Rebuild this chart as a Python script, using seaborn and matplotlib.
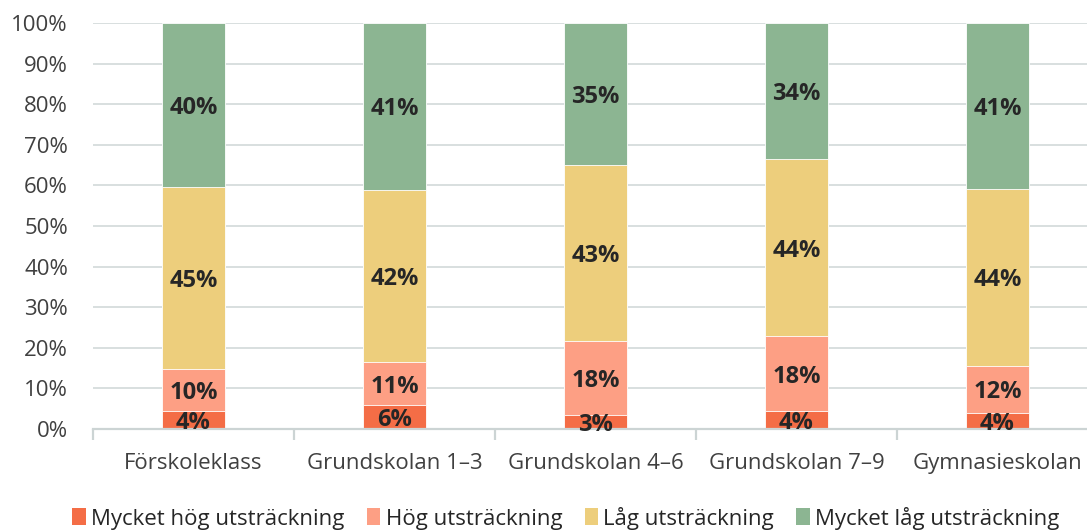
import numpy as np
import pandas as pd
import matplotlib.pyplot as plt
import seaborn as sns
from matplotlib.patches import Patch

# data (shares in %)
categories = ['Förskoleklass', 'Grundskolan 1–3', 'Grundskolan 4–6', 'Grundskolan 7–9', 'Gymnasieskolan']
series = ['Mycket hög utsträckning', 'Hög utsträckning', 'Låg utsträckning', 'Mycket låg utsträckning']
mycket_hog = [4.4, 5.9, 3.4, 4.4, 4.0]
hog = [10.4, 10.6, 18.2, 18.4, 11.6]
lag = [44.8, 42.4, 43.4, 43.7, 43.5]
mycket_lag = [40.4, 41.1, 35.0, 33.5, 40.9]
colors = ['#f46d46', '#fd9f84', '#edce7c', '#8cb592']

sns.set_theme(style='white')
plt.rcParams['font.family'] = ['Open Sans', 'DejaVu Sans']

df = pd.DataFrame({'kategori': categories, series[0]: mycket_hog, series[1]: hog,
                   series[2]: lag, series[3]: mycket_lag})
values = df[series].to_numpy()
cum = np.cumsum(values, axis=1)

fig = plt.figure(figsize=(10.87, 5.31), dpi=100)
ax = fig.add_axes([93 / 1087, 1 - 429 / 531, 1005 / 1087, 406 / 531])

# stacked bars: draw cumulative totals from the top down
for i in range(len(series) - 1, -1, -1):
    tmp = pd.DataFrame({'kategori': categories, 'v': cum[:, i]})
    sns.barplot(data=tmp, x='kategori', y='v', color=colors[i], width=0.315,
                saturation=1, edgecolor='white', linewidth=0.6, ax=ax, zorder=2)

# value labels
for j in range(len(categories)):
    for i in range(len(series)):
        mid = cum[j, i] - values[j, i] / 2
        ax.text(j, mid, f'{round(values[j, i])}%', ha='center', va='center_baseline',
                fontsize=17, fontweight='bold', color='#262626', zorder=3)

ax.set_ylim(0, 100)
ax.set_xlim(-0.5, 4.5)
ax.set_yticks(range(0, 101, 10))
ax.set_yticklabels([f'{t}%' for t in range(0, 101, 10)])
ax.yaxis.grid(True, color='#d8dfdf', linewidth=1.4, zorder=0)
ax.set_axisbelow(True)
ax.set_xlabel('')
ax.set_ylabel('')
for s in ['left', 'right', 'top']:
    ax.spines[s].set_visible(False)
ax.spines['bottom'].set_color('#ccd4d4')
ax.spines['bottom'].set_linewidth(1.6)
ax.tick_params(axis='y', length=0, labelsize=16, labelcolor='#404040', pad=18)
ax.tick_params(axis='x', which='major', length=0, labelsize=16, labelcolor='#404040', pad=17)
ax.set_xticks(np.arange(-0.5, 5, 1), minor=True)
ax.tick_params(axis='x', which='minor', bottom=True, length=8, width=1.6,
               color='#ccd4d4', direction='out')

handles = [Patch(facecolor=c, edgecolor='none') for c in colors]
fig.legend(handles, series, loc='center', bbox_to_anchor=(566 / 1087, 1 - 518 / 531), ncol=4,
           frameon=False, fontsize=16, handlelength=0.6, handleheight=0.8,
           handletextpad=0.25, columnspacing=1.0, labelcolor='#262626')

fig.savefig('out.png', dpi=100)
